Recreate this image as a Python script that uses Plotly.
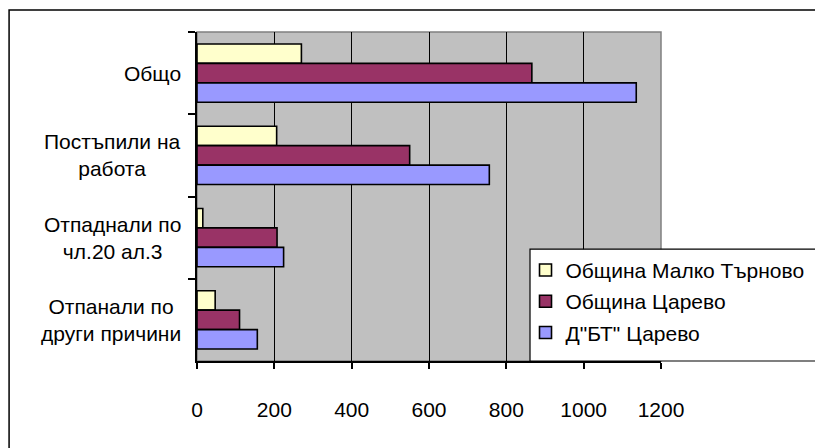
import plotly.graph_objects as go

categories = ["Общо", "Постъпили на<br>работа", "Отпаднали по<br>чл.20 ал.3", "Отпанали по<br>други причини"]
series_names = ["Община Малко Търново", "Община Царево", "Д\"БТ\" Царево"]
malko_tarnovo = [270, 206, 15, 47]
tsarevo = [866, 550, 207, 110]
dbt_tsarevo = [1136, 756, 224, 156]
colors = ["#FFFFCC", "#993366", "#9999FF"]
x_ticks = [0, 200, 400, 600, 800, 1000, 1200]

FONT = "Liberation Sans, Arial, sans-serif"

fig = go.Figure()
for i, (name, vals) in enumerate(zip(series_names, [malko_tarnovo, tsarevo, dbt_tsarevo])):
    fig.add_trace(go.Bar(
        y=categories, x=vals, name=name, orientation="h",
        marker=dict(color=colors[i], line=dict(color="black", width=1.6)),
        legendgroup=f"g{i}",
    ))

for c in categories:
    fig.add_annotation(x=0, xref="paper", y=c, yref="y", text=c, showarrow=False,
                       xanchor="right", align="center", xshift=-14,
                       font=dict(family=FONT, size=21, color="black"))

# plot area border (grey)
fig.add_shape(type="rect", xref="paper", yref="paper", x0=0, x1=1, y0=0, y1=1,
              line=dict(color="#808080", width=1.5), layer="below")
# outer chart border (left and top edges; right/bottom run off the picture)
fig.add_shape(type="path", xref="paper", yref="paper",
              path="M -0.405 -0.5 L -0.405 1.067 L 1.40 1.067",
              line=dict(color="black", width=1.5), layer="above")
# legend box background and edges
fig.add_shape(type="rect", xref="paper", yref="paper", x0=0.7177, x1=1.40, y0=0.0, y1=0.340,
              line=dict(width=0), fillcolor="white", layer="above")
fig.add_shape(type="path", xref="paper", yref="paper",
              path="M 1.40 0.340 L 0.7177 0.340 L 0.7177 0.0 L 1.40 0.0",
              line=dict(color="black", width=1.2), layer="above")

fig.update_layout(
    width=815, height=448,
    margin=dict(l=197, r=154, t=32, b=87, autoexpand=False),
    paper_bgcolor="white", plot_bgcolor="#C0C0C0",
    barmode="group", bargap=0.29, bargroupgap=0,
    font=dict(family=FONT, size=21, color="black"),
    showlegend=True,
    legend=dict(x=0.708, y=0.338, xanchor="left", yanchor="top",
                bgcolor="rgba(0,0,0,0)", borderwidth=0,
                traceorder="grouped", tracegroupgap=1,
                font=dict(family=FONT, size=21, color="black")),
    xaxis=dict(range=[0, 1200], tickvals=x_ticks, ticktext=[str(v) for v in x_ticks],
               showgrid=True, gridcolor="black", gridwidth=1,
               showline=True, linecolor="black", linewidth=1.5,
               ticks="outside", ticklen=6, tickcolor="black", tickwidth=1.5,
               ticklabelstandoff=23, zeroline=False, fixedrange=True),
    yaxis=dict(autorange="reversed", showticklabels=False, tickson="boundaries",
               ticks="outside", ticklen=7, tickcolor="black", tickwidth=1.5,
               showline=True, linecolor="black", linewidth=1.5,
               showgrid=False, zeroline=False, fixedrange=True),
)

fig.write_html("out.html", config={"displayModeBar": False},
               post_script=("document.body.style.margin='0';"
                            "document.body.style.overflow='hidden';"
                            "document.documentElement.style.overflow='hidden';"))
